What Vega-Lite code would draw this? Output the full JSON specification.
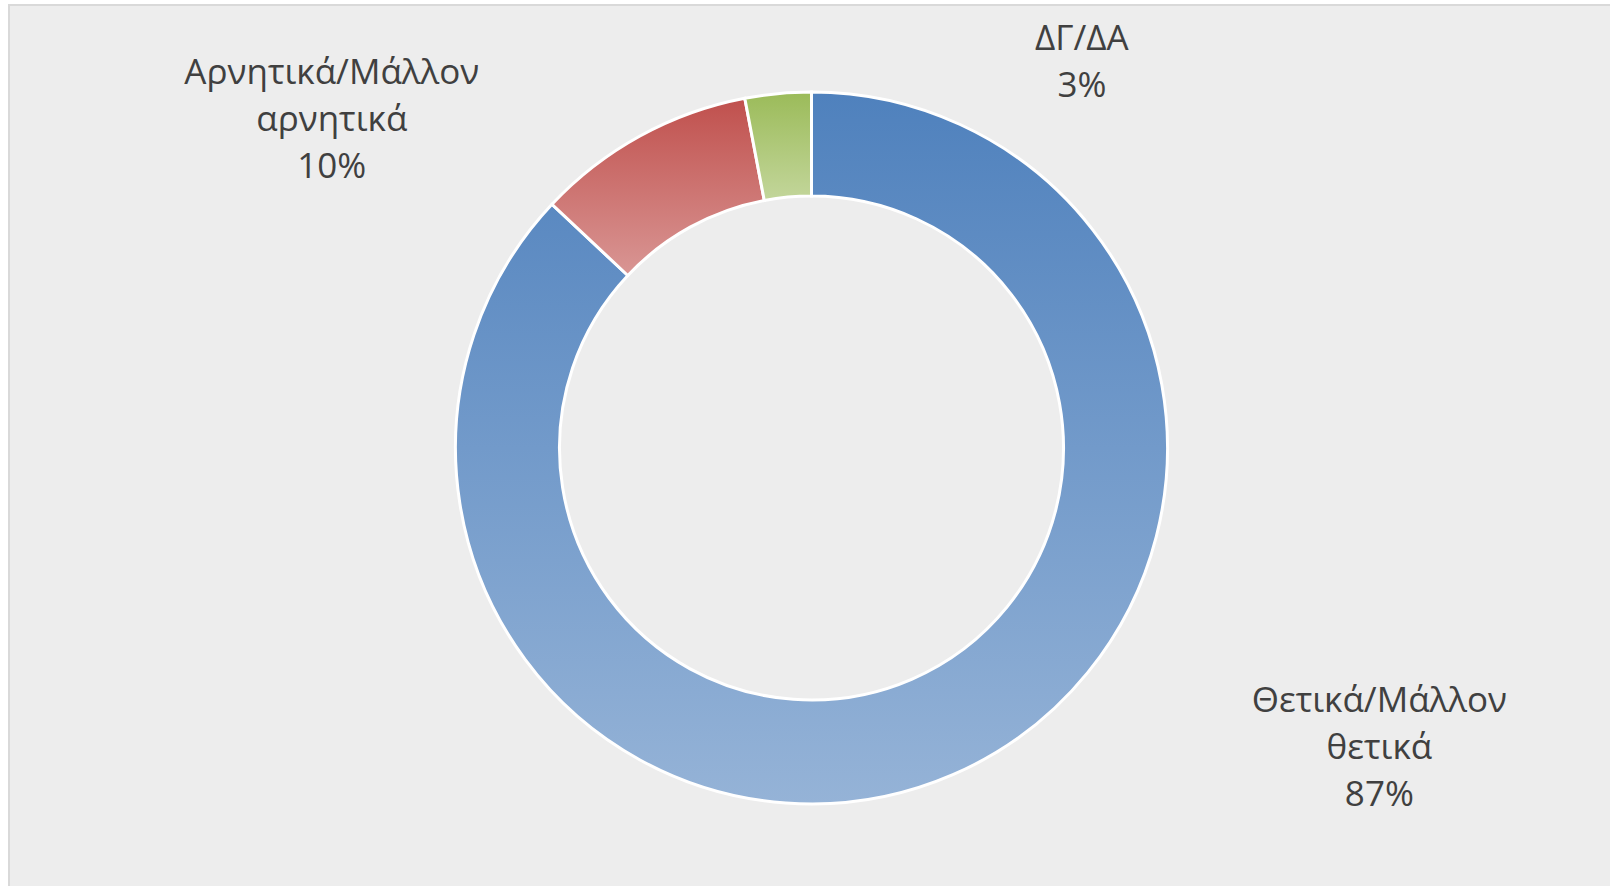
{
  "$schema": "https://vega.github.io/schema/vega-lite/v6.json",
  "autosize": {"type": "none"},
  "width": 1605,
  "height": 886,
  "padding": {"left": 9, "top": 5, "right": 0, "bottom": 0},
  "background": "#ffffff",
  "view": {"fill": "#ededed", "stroke": "#d9d9d9", "strokeWidth": 2},
  "data": {
    "values": [
      {"category": "Θετικά/Μάλλον θετικά", "label": "Θετικά/Μάλλον\nθετικά\n87%", "value": 87, "order": 1},
      {"category": "Αρνητικά/Μάλλον αρνητικά", "label": "Αρνητικά/Μάλλον\nαρνητικά\n10%", "value": 10, "order": 2},
      {"category": "ΔΓ/ΔΑ", "label": "ΔΓ/ΔΑ\n3%", "value": 3, "order": 3}
    ]
  },
  "encoding": {
    "theta": {"field": "value", "type": "quantitative", "stack": true},
    "order": {"field": "order", "type": "quantitative"}
  },
  "layer": [
    {
      "mark": {"type": "arc", "outerRadius": 356, "innerRadius": 252, "stroke": "#ffffff", "strokeWidth": 3},
      "encoding": {
        "color": {
          "condition": [
            {"test": "datum.order === 1", "value": {"gradient": "linear", "x1": 0, "y1": 0, "x2": 0, "y2": 1, "stops": [{"offset": 0, "color": "#4f81bd"}, {"offset": 1, "color": "#95b3d7"}]}},
            {"test": "datum.order === 2", "value": {"gradient": "linear", "x1": 0, "y1": 0, "x2": 0, "y2": 1, "stops": [{"offset": 0, "color": "#c0504d"}, {"offset": 1, "color": "#d99694"}]}}
          ],
          "value": {"gradient": "linear", "x1": 0, "y1": 0, "x2": 0, "y2": 1, "stops": [{"offset": 0, "color": "#9bbb59"}, {"offset": 1, "color": "#c3d69b"}]}
        }
      }
    },
    {
      "mark": {"type": "text", "font": "Open Sans", "fontSize": 35, "color": "#404040", "lineBreak": "\n", "lineHeight": 47, "align": "center", "baseline": "middle", "dx": 409, "dy": -114},
      "encoding": {
        "radius": {"value": 400},
        "text": {"condition": {"test": "datum.order === 1", "field": "label"}, "value": ""}
      }
    },
    {
      "mark": {"type": "text", "font": "Open Sans", "fontSize": 35, "color": "#404040", "lineBreak": "\n", "lineHeight": 47, "align": "center", "baseline": "middle", "dx": -287, "dy": -24},
      "encoding": {
        "radius": {"value": 400},
        "text": {"condition": {"test": "datum.order === 2", "field": "label"}, "value": ""}
      }
    },
    {
      "mark": {"type": "text", "font": "Open Sans", "fontSize": 35, "color": "#404040", "lineBreak": "\n", "lineHeight": 47, "align": "center", "baseline": "middle", "dx": 308, "dy": -11},
      "encoding": {
        "radius": {"value": 400},
        "text": {"condition": {"test": "datum.order === 3", "field": "label"}, "value": ""}
      }
    }
  ]
}
